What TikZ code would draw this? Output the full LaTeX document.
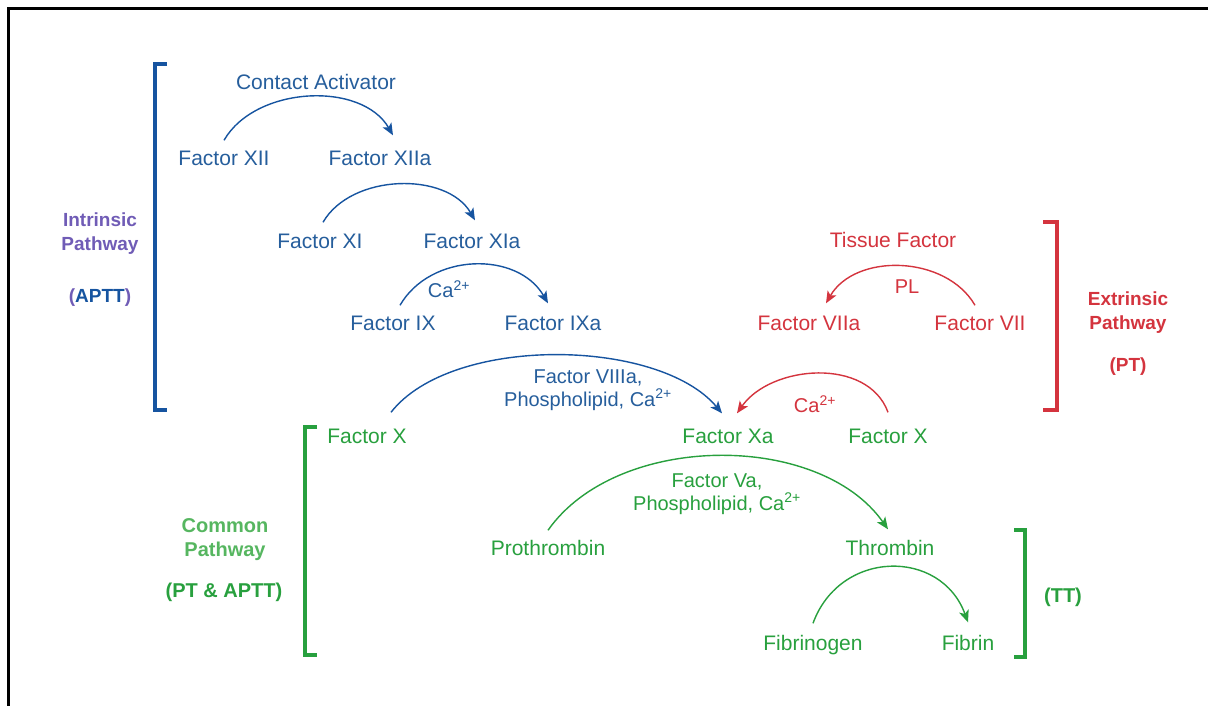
\documentclass[tikz,border=0pt]{standalone}
\usepackage{fontspec}
\setmainfont{Liberation Sans}
\usetikzlibrary{arrows.meta,positioning}
\definecolor{intblue}{RGB}{38,94,156}
\definecolor{brblue}{RGB}{22,84,160}
\definecolor{intpurple}{RGB}{112,92,182}
\definecolor{extred}{RGB}{212,52,62}
\definecolor{comgreen}{RGB}{40,160,62}
\definecolor{lightgreen}{RGB}{86,182,96}
\tikzset{
  fac/.style={font=\fontsize{21}{25}\selectfont, text height=15pt, text depth=4pt, inner sep=1pt},
  cofac/.style={font=\fontsize{20}{23}\selectfont, align=center, inner sep=1pt},
  pathlbl/.style={font=\fontsize{19}{24}\selectfont\bfseries, align=center, inner sep=1pt},
  react/.style={line width=1.4pt, -{Stealth[length=12pt,width=10pt,inset=3pt]}},
  bracket/.style={line width=3.6pt}
}
\begin{document}
\begin{tikzpicture}[x=1pt,y=-1pt]
\useasboundingbox (0,0) rectangle (1208,706);
\fill[white] (0,0) rectangle (1208,706);
\draw[line width=3pt] (8,706) -- (8,9) -- (1208,9);

% intrinsic
\node[fac,intblue] (contact) at (316,84) {Contact Activator};
\node[fac,intblue] (f12) at (224,160) {Factor XII};
\node[fac,intblue] (f12a) at (380,160) {Factor XIIa};
\node[fac,intblue] (f11) at (320,243) {Factor XI};
\node[fac,intblue] (f11a) at (472,243) {Factor XIa};
\node[cofac,intblue] (ca1) at (449,289) {Ca\textsuperscript{2+}};
\node[fac,intblue] (f9) at (393,325) {Factor IX};
\node[fac,intblue] (f9a) at (553,325) {Factor IXa};
\node[cofac,intblue] (f8a) at (588,390) {Factor VIIIa,\\Phospholipid, Ca\textsuperscript{2+}};
\draw[bracket,brblue] (167,64) -| (155,410) -- (167,410);
\node[pathlbl,intpurple] (intr) at (100,234) {Intrinsic\\Pathway};
\node[pathlbl,intpurple] (aptt) at (100,298) {(\textcolor{brblue}{APTT})};

% extrinsic
\node[fac,extred] (tf) at (893,242) {Tissue Factor};
\node[cofac,extred] (pl) at (907,287) {PL};
\node[fac,extred] (f7a) at (809,325) {Factor VIIa};
\node[fac,extred] (f7) at (980,325) {Factor VII};
\node[cofac,extred] (ca2) at (815,404) {Ca\textsuperscript{2+}};
\draw[bracket,extred] (1043,222) -| (1057,410) -- (1043,410);
\node[pathlbl,extred] (extr) at (1128,313) {Extrinsic\\Pathway};
\node[pathlbl,extred] (pt) at (1128,367) {(PT)};

% common
\node[fac,comgreen] (f10l) at (367,438) {Factor X};
\node[fac,comgreen] (f10a) at (728,438) {Factor Xa};
\node[fac,comgreen] (f10r) at (888,438) {Factor X};
\node[cofac,comgreen] (f5a) at (717,494) {Factor Va,\\Phospholipid, Ca\textsuperscript{2+}};
\node[fac,comgreen] (proth) at (548,550) {Prothrombin};
\node[fac,comgreen] (thromb) at (890,550) {Thrombin};
\node[fac,comgreen] (fibgen) at (813,645) {Fibrinogen};
\node[fac,comgreen] (fib) at (968,645) {Fibrin};
\draw[bracket,comgreen] (317,427) -| (305,655) -- (317,655);
\draw[bracket,comgreen] (1014,530) -| (1025,657) -- (1014,657);
\node[pathlbl,lightgreen,font=\fontsize{20}{24}\selectfont\bfseries] (comm) at (225,540) {Common\\Pathway};
\node[pathlbl,comgreen,font=\fontsize{20}{24}\selectfont\bfseries] (ptaptt) at (224,592) {(PT \& APTT)};
\node[pathlbl,comgreen,font=\fontsize{20}{24}\selectfont\bfseries] (tt) at (1063,597) {(TT)};

\draw[react,brblue] ([yshift=9pt]f12.north) to[out=60,in=120,looseness=0.95] ([xshift=13pt,yshift=14pt]f12a.north);
\draw[react,brblue] ([xshift=3pt,yshift=10pt]f11.north) to[out=60,in=120,looseness=0.95] ([xshift=3pt,yshift=12pt]f11a.north);
\draw[react,brblue] ([xshift=7pt,yshift=9pt]f9.north) to[out=60,in=120,looseness=1.05] ([xshift=-5pt,yshift=11pt]f9a.north);
\draw[react,brblue] ([xshift=24pt,yshift=15pt]f10l.north) to[out=52,in=130,looseness=0.76] ([xshift=-6pt,yshift=14pt]f10a.north);
\draw[react,extred] ([xshift=-5pt,yshift=9pt]f7.north) to[out=120,in=60,looseness=1.0] ([xshift=17pt,yshift=11pt]f7a.north);
\draw[react,extred] ([yshift=15pt]f10r.north) to[out=110,in=55,looseness=1.0] ([xshift=9pt,yshift=14pt]f10a.north);
\draw[react,comgreen] ([yshift=9pt]proth.north) to[out=55,in=125,looseness=0.9] ([xshift=-2pt,yshift=10pt]thromb.north);
\draw[react,comgreen] ([yshift=11pt]fibgen.north) to[out=70,in=110,looseness=1.3] ([yshift=12pt]fib.north);
\end{tikzpicture}
\end{document}
